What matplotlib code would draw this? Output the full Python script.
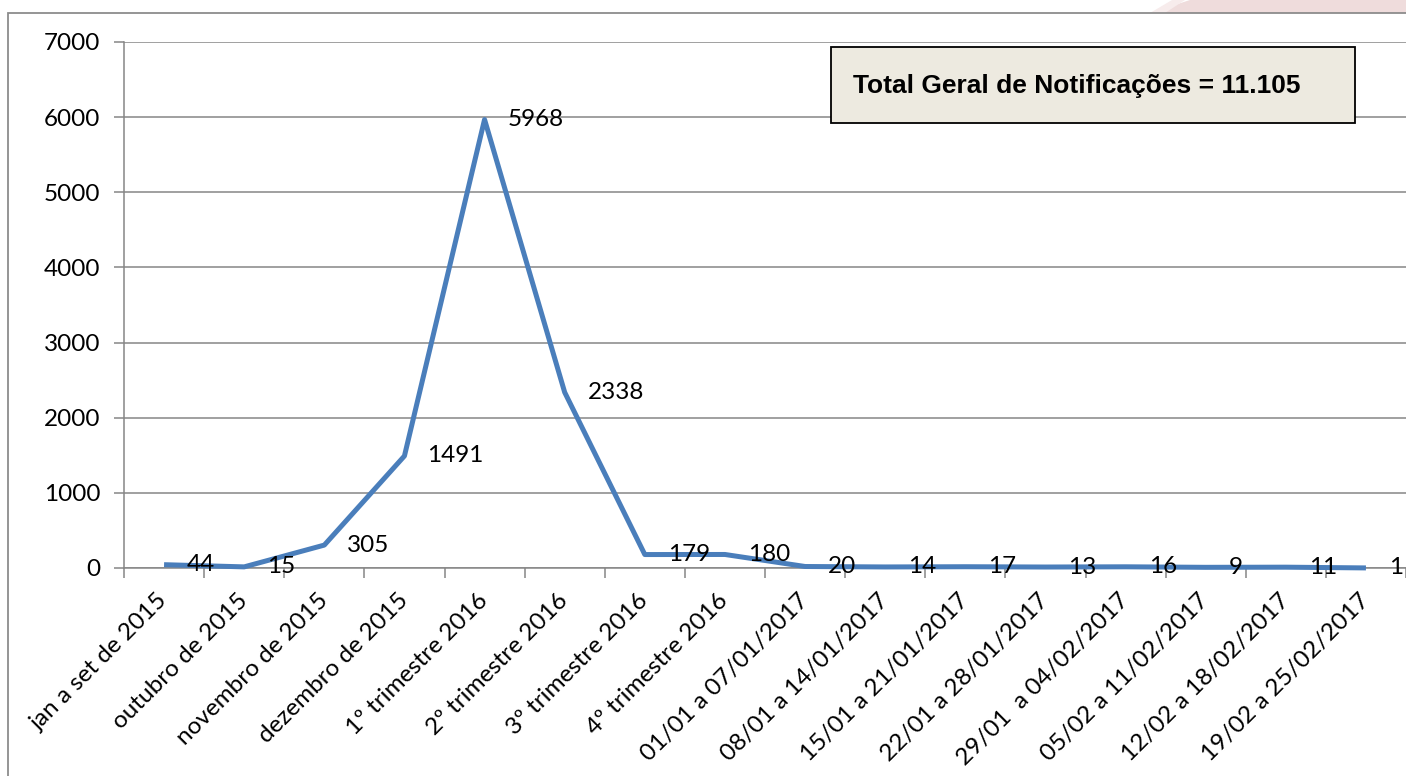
import matplotlib
matplotlib.use('Agg')
import matplotlib.pyplot as plt
from matplotlib.patches import Rectangle, Polygon
from matplotlib.ticker import FixedLocator

# --- chart data --- #
categories = [
    'jan a set de 2015', 'outubro de 2015', 'novembro de 2015',
    'dezembro de 2015', '1º trimestre 2016', '2º trimestre 2016',
    '3º trimestre 2016', '4º trimestre 2016', '01/01 a 07/01/2017',
    '08/01 a 14/01/2017', '15/01 a 21/01/2017', '22/01 a 28/01/2017',
    '29/01  a 04/02/2017', '05/02 a 11/02/2017', '12/02 a 18/02/2017',
    '19/02 a 25/02/2017',
]
notificacoes = [44, 15, 305, 1491, 5968, 2338, 179, 180, 20, 14, 17, 13,
                16, 9, 11, 1]
y_ticks = [0, 1000, 2000, 3000, 4000, 5000, 6000, 7000]
total_text = 'Total Geral de Notificações = 11.105'

W, H = 1406, 776
line_color = '#4A7EBB'
grid_color = '#868686'
fsize = 17.5

fig = plt.figure(figsize=(W / 100, H / 100), dpi=100)
fig.patch.set_facecolor('white')

# faint background decoration at the top right
fig.patches.append(Polygon([(1150 / W, 1 - 13 / H), (1190 / W, 1.0),
                            (1.0, 1.0), (1.0, 1 - 13 / H)],
                           closed=True, transform=fig.transFigure,
                           facecolor='#efdcdc', edgecolor='none', zorder=0))
fig.patches.append(Polygon([(1150 / W, 1 - 13 / H), (1172 / W, 1.0),
                            (1185 / W, 1.0), (1165 / W, 1 - 13 / H)],
                           closed=True, transform=fig.transFigure,
                           facecolor='#f7ecec', edgecolor='none', zorder=0))

# outer chart border (cut off at right and bottom)
fig.patches.append(Rectangle((8 / W, -0.05), 1.1, 1 - 13 / H + 0.05,
                             transform=fig.transFigure, fill=False,
                             edgecolor='#8c8c8c', linewidth=1.3, zorder=1))

ax = fig.add_axes([124 / W, 1 - 568 / H, 1 - 124 / W, (568 - 42) / H])
ax.set_facecolor('none')

x = list(range(1, len(notificacoes) + 1))
ax.plot(x, notificacoes, color=line_color, linewidth=3.6,
        solid_joinstyle='round', solid_capstyle='butt', zorder=3,
        clip_on=False)

for xi, val in zip(x, notificacoes):
    ax.annotate(str(val), (xi, val), xytext=(23, 0),
                textcoords='offset pixels', ha='left', va='center',
                fontsize=fsize, family='Lato', color='black', zorder=4,
                annotation_clip=False)

ax.set_xlim(0.5, len(categories) + 0.5)
ax.set_ylim(0, 7000)

ax.set_yticks(y_ticks)
ax.set_yticklabels([str(t) for t in y_ticks], fontsize=fsize, family='Lato')
ax.yaxis.grid(True, color=grid_color, linewidth=1.1)
ax.set_axisbelow(True)

# ticks between categories, labels at centres
ax.xaxis.set_major_locator(FixedLocator([i + 0.5 for i in range(len(categories) + 1)]))
ax.xaxis.set_major_formatter(plt.NullFormatter())
ax.xaxis.set_minor_locator(FixedLocator(x))
ax.set_xticklabels(categories, minor=True, rotation=45, ha='right',
                   va='center', rotation_mode='anchor', fontsize=fsize,
                   family='Lato')
ax.tick_params(axis='x', which='minor', length=0, pad=21)
ax.tick_params(axis='x', which='major', length=7, width=1.1,
               color=grid_color, direction='out')
ax.tick_params(axis='y', length=7, width=1.1, color=grid_color, pad=10)

for side in ['top', 'right']:
    ax.spines[side].set_visible(False)
for side in ['left', 'bottom']:
    ax.spines[side].set_color(grid_color)
    ax.spines[side].set_linewidth(1.1)

# total box
fig.text(853 / W, 1 - 86 / H, total_text, fontsize=19, fontweight='bold',
         family='Liberation Sans', ha='left', va='center', zorder=5)
fig.patches.append(Rectangle((831 / W, 1 - 123 / H), (1355 - 831) / W,
                             (123 - 47) / H, transform=fig.transFigure,
                             facecolor='#EDEAE0', edgecolor='black',
                             linewidth=1.3, zorder=4))

fig.savefig('out.png', dpi=100)
